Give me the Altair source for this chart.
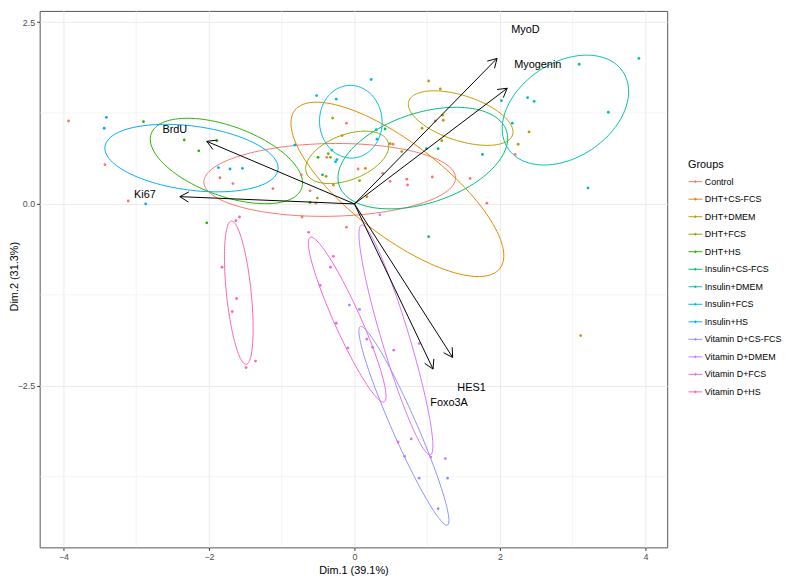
import numpy as np
import pandas as pd
import altair as alt

groups = ["Control", "DHT+CS-FCS", "DHT+DMEM", "DHT+FCS", "DHT+HS",
          "Insulin+CS-FCS", "Insulin+DMEM", "Insulin+FCS", "Insulin+HS",
          "Vitamin D+CS-FCS", "Vitamin D+DMEM", "Vitamin D+FCS", "Vitamin D+HS"]
palette = ["#F8766D", "#E18A00", "#BE9C00", "#8CAB00", "#24B700", "#00BE70",
           "#00C1AB", "#00BBDA", "#00ACFC", "#8B93FF", "#D575FE", "#F962DD", "#FF65AC"]

# individual scores per group (Dim.1, Dim.2)
control_x = [-3.93, -3.43, -3.11, -1.85, -1.67, -1.12, -0.73, -0.61, -0.53, -0.72, -0.11, -0.11,
             -0.38, 0.05, 0.39, 0.49, 0.53, 0.72, 0.73, 1.07, 1.11, 1.59, 1.82, 2.21]
control_y = [1.14, 0.54, 0.04, 0.36, 0.28, 0.21, 0.40, 0.18, 0.01, -0.18, -0.32, 1.11,
             0.64, 0.48, 0.42, 0.31, 0.82, 0.34, 0.26, 0.37, 1.14, 0.35, 0.01, 0.68]
dht_csfcs_x = [0.15, 0.17, 3.11, -0.17, -0.29]
dht_csfcs_y = [0.49, 0.10, -1.81, 0.94, 0.26]
dht_dmem_x = [1.02, 1.18, 1.21, 1.22, 0.93, 1.20, 2.25, 2.40]
dht_dmem_y = [1.69, 1.58, 1.22, 1.15, 1.04, 0.87, 0.82, 0.99]
dht_fcs_x = [-0.30, -0.36, -0.33, -0.39, 0.07, 0.49, 0.65, -0.51]
dht_fcs_y = [1.18, 0.69, 0.64, 0.38, 0.32, 0.83, 0.72, 0.08]
dht_hs_x = [-2.90, -2.34, -2.14, -1.89, -2.03, -0.50, -0.61]
dht_hs_y = [1.13, 0.88, 0.73, 0.87, -0.26, 0.64, 0.02]
ins_csfcs_x = [0.99, 1.15, 1.76, 1.02, 0.42, -0.44, 2.02]
ins_csfcs_y = [0.76, 0.76, 0.68, -0.45, 1.03, 0.40, 1.42]
ins_dmem_x = [3.09, 3.91, 2.38, 2.47, 3.49, 3.21, 2.17]
ins_dmem_y = [1.92, 2.00, 1.46, 1.41, 1.26, 0.22, 1.11]
ins_fcs_x = [-0.52, -0.25, 0.23, -0.31, -0.26, -0.24, 0.30, 0.31]
ins_fcs_y = [1.49, 1.44, 1.71, 0.74, 0.58, 0.61, 1.02, 0.89]
ins_hs_x = [-3.41, -3.44, -1.87, -1.71, -1.54, -2.87, -0.82]
ins_hs_y = [1.19, 1.04, 0.50, 0.48, 0.49, 0.00, 0.81]
vit_csfcs_x = [-0.07, 0.07, 0.69, 0.89, 1.28, 1.15]
vit_csfcs_y = [-1.39, -1.45, -3.47, -3.77, -3.77, -4.19]
vit_dmem_x = [0.35, 0.89, 0.78, 1.05, 1.25, 0.54, 0.17, 0.25]
vit_dmem_y = [-0.15, -1.92, -3.23, -3.48, -3.50, -2.01, -1.86, -1.97]
vit_fcs_x = [-0.63, -0.29, -0.33, -0.47, -0.25, -0.09, 0.60]
vit_fcs_y = [-0.39, -0.72, -0.87, -1.12, -1.64, -1.98, -3.27]
vit_hs_x = [-1.58, -1.63, -1.82, -1.62, -1.68, -1.36, -1.49]
vit_hs_y = [-0.18, -0.23, -0.87, -1.30, -1.48, -2.16, -2.25]

# concentration ellipses (centre, semi-axes, angle in degrees)
ell_cx = [-0.34, 0.59, 1.46, -0.10, -1.76, 0.94, 2.90, -0.05, -2.24, 0.68, 0.57, -0.10, -1.59]
ell_cy = [0.33, 0.20, 1.18, 0.64, 0.59, 0.63, 1.29, 1.13, 0.63, -3.05, -1.87, -1.59, -1.22]
ell_a = [1.73, 1.78, 0.75, 0.60, 1.10, 1.21, 0.95, 0.50, 1.20, 1.49, 1.65, 1.24, 0.99]
ell_b = [0.50, 0.64, 0.31, 0.31, 0.48, 0.62, 0.65, 0.43, 0.44, 0.17, 0.19, 0.18, 0.17]
ell_angle = [1, -37.6, -18, 21, -20, 18, 33.7, 93, -7.6, -66.3, -73.3, -65.8, -84.1]

# variable loadings (arrows) and label positions
var_names = ["MyoD", "Myogenin", "BrdU", "Ki67", "HES1", "Foxo3A"]
var_x = [1.96, 2.10, -2.03, -2.40, 1.35, 1.08]
var_y = [2.00, 1.59, 0.86, 0.10, -2.11, -2.27]
lab_x = [2.35, 2.52, -2.47, -2.88, 1.61, 1.30]
lab_y = [2.39, 1.91, 1.02, 0.12, -2.53, -2.74]

x_ticks = [-4, -2, 0, 2, 4]
y_ticks = [-2.5, 0.0, 2.5]
x_minor = [-3, -1, 1, 3]
y_minor = [1.25, -1.25, -3.75]

point_x = [control_x, dht_csfcs_x, dht_dmem_x, dht_fcs_x, dht_hs_x, ins_csfcs_x, ins_dmem_x,
           ins_fcs_x, ins_hs_x, vit_csfcs_x, vit_dmem_x, vit_fcs_x, vit_hs_x]
point_y = [control_y, dht_csfcs_y, dht_dmem_y, dht_fcs_y, dht_hs_y, ins_csfcs_y, ins_dmem_y,
           ins_fcs_y, ins_hs_y, vit_csfcs_y, vit_dmem_y, vit_fcs_y, vit_hs_y]

rows = []
for g, xs, ys in zip(groups, point_x, point_y):
    for a, b in zip(xs, ys):
        rows.append({"group": g, "x": a, "y": b})
points_df = pd.DataFrame(rows)

t = np.linspace(0, 2 * np.pi, 121)
erows = []
for g, cx, cy, a, b, ang in zip(groups, ell_cx, ell_cy, ell_a, ell_b, ell_angle):
    th = np.deg2rad(ang)
    ex = cx + a * np.cos(t) * np.cos(th) - b * np.sin(t) * np.sin(th)
    ey = cy + a * np.cos(t) * np.sin(th) + b * np.sin(t) * np.cos(th)
    for i, (u, v) in enumerate(zip(ex, ey)):
        erows.append({"group": g, "i": i, "x": u, "y": v})
ell_df = pd.DataFrame(erows)

head_len = 0.14
head_ang = np.deg2rad(30)
arows = []
for n, tx, ty in zip(var_names, var_x, var_y):
    arows.append({"seg": n + "_s", "i": 0, "x": 0.0, "y": 0.0})
    arows.append({"seg": n + "_s", "i": 1, "x": tx, "y": ty})
    d = np.arctan2(ty, tx)
    for k, s in enumerate([1, None, -1]):
        if s is None:
            arows.append({"seg": n + "_h", "i": k, "x": tx, "y": ty})
        else:
            arows.append({"seg": n + "_h", "i": k,
                          "x": tx - head_len * np.cos(d + s * head_ang),
                          "y": ty - head_len * np.sin(d + s * head_ang)})
arrow_df = pd.DataFrame(arows)
label_df = pd.DataFrame({"name": var_names, "x": lab_x, "y": lab_y})

FONT = "Liberation Sans"
xscale = alt.Scale(domain=[-4.327, 4.299], nice=False, zero=False)
yscale = alt.Scale(domain=[-4.721, 2.653], nice=False, zero=False)
cscale = alt.Scale(domain=groups, range=palette)

xaxis = alt.Axis(values=x_ticks, format="d", title="Dim.1 (39.1%)", grid=True,
                 gridColor="#EBEBEB", gridWidth=1, domain=False, tickColor="#333333",
                 tickSize=3, labelColor="#4D4D4D", labelFontSize=9, labelFont=FONT,
                 labelPadding=2, titleFont=FONT, titleFontSize=11, titleFontWeight="normal",
                 titleColor="black", titleX=317, titleY=23, titleBaseline="middle")
yaxis = alt.Axis(values=y_ticks, format=".1f", title="Dim.2 (31.3%)", grid=True,
                 gridColor="#EBEBEB", gridWidth=1, domain=False, tickColor="#333333",
                 tickSize=3, labelColor="#4D4D4D", labelFontSize=9, labelFont=FONT,
                 labelPadding=2, titleFont=FONT, titleFontSize=11, titleFontWeight="normal",
                 titleColor="black", titleX=-25, titleY=268, titleBaseline="middle",
                 titleAngle=270)

X = alt.X("x:Q", scale=xscale, axis=xaxis)
Y = alt.Y("y:Q", scale=yscale, axis=yaxis)

minor_x = alt.Chart(pd.DataFrame({"x": x_minor})).mark_rule(
    color="#EBEBEB", strokeWidth=0.55).encode(x=alt.X("x:Q", scale=xscale, axis=xaxis))
minor_y = alt.Chart(pd.DataFrame({"y": y_minor})).mark_rule(
    color="#EBEBEB", strokeWidth=0.55).encode(y=alt.Y("y:Q", scale=yscale, axis=yaxis))

legend = alt.Legend(title="Groups", orient="none", legendX=655, legendY=150,
                    symbolType="M-1,0L1,0M-0.12,0A0.12,0.12,0,1,0,0.12,0A0.12,0.12,0,1,0,-0.12,0",
                    symbolSize=196, symbolStrokeWidth=1, labelFont=FONT, labelFontSize=9,
                    labelColor="black", titleFont=FONT, titleFontSize=11,
                    titleFontWeight="normal", titleColor="black", rowPadding=4.7,
                    labelOffset=2, titlePadding=4, padding=0)

ellipses = alt.Chart(ell_df).mark_line(strokeWidth=1).encode(
    x=X, y=Y, color=alt.Color("group:N", scale=cscale, legend=legend),
    detail="group:N", order="i:Q")
pts = alt.Chart(points_df).mark_circle(size=8, opacity=1).encode(
    x=X, y=Y, color=alt.Color("group:N", scale=cscale, legend=None))
arrows = alt.Chart(arrow_df).mark_line(color="black", strokeWidth=1).encode(
    x=X, y=Y, detail="seg:N", order="i:Q")
labels = alt.Chart(label_df).mark_text(font=FONT, fontSize=11, color="black",
                                       align="center", baseline="middle").encode(
    x=X, y=Y, text="name:N")

chart = alt.layer(minor_x, minor_y, ellipses, pts, arrows, labels).properties(
    width=634, height=542,
    autosize=alt.AutoSizeParams(type="none"),
    padding={"left": 32, "top": 0, "right": 117, "bottom": 29},
).configure_view(stroke="#555555", strokeWidth=1)

chart.save("out.html", embed_options={"renderer": "svg", "actions": False})
